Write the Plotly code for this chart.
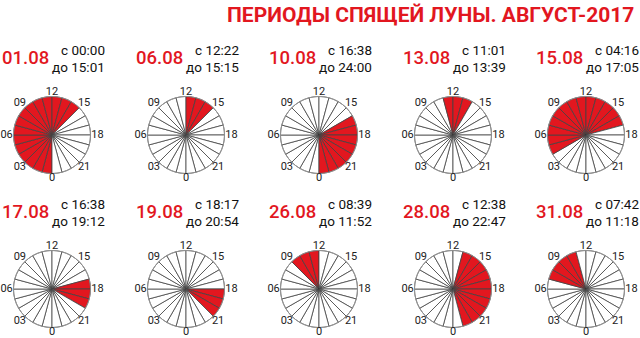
import plotly.graph_objects as go

# ---- data ----
dates = ['01.08', '06.08', '10.08', '13.08', '15.08',
         '17.08', '19.08', '26.08', '28.08', '31.08']
start_txt = ['00:00', '12:22', '16:38', '11:01', '04:16',
             '16:38', '18:17', '08:39', '12:38', '07:42']
end_txt = ['15:01', '15:15', '24:00', '13:39', '17:05',
           '19:12', '20:54', '11:52', '22:47', '11:18']
fill_start = [0, 12, 16, 11, 4, 17, 18, 9, 13, 7]
fill_end = [15, 15, 24, 14, 17, 20, 21, 12, 23, 11]
hour_ticks = [0, 3, 6, 9, 12, 15, 18, 21]
hour_tick_text = ['0', '03', '06', '09', '12', '15', '18', '21']
title_text = 'ПЕРИОДЫ СПЯЩЕЙ ЛУНЫ. АВГУСТ-2017'

RED = '#e2171f'
W, H = 640, 338
FONT = 'Roboto'
col_cx = [52, 186, 319, 453, 586]
row_cy = [135, 289]
R = 38.5          # pixel radius of the clock face
RMAX = 1.2        # radial range (room for labels)

hours = list(range(24))
# label distance: vertical labels (0, 12) sit a bit closer to the rim
label_r = [1.12 if t in (0, 12) else 1.18 for t in hour_ticks]

fig = go.Figure()
annotations = []
layout_polars = {}

for i, d in enumerate(dates):
    cx = col_cx[i % 5]
    cy = row_cy[i // 5]
    name = 'polar' if i == 0 else f'polar{i+1}'
    colors = [RED if fill_start[i] <= h < fill_end[i] else 'white' for h in hours]
    fig.add_trace(go.Barpolar(
        r=[1] * 24,
        theta=[h * 15 + 7.5 for h in hours],
        width=[15] * 24,
        marker=dict(color=colors, line=dict(color='#444444', width=0.8)),
        subplot=name, showlegend=False, hoverinfo='skip'))
    # outer rim of the clock face
    fig.add_trace(go.Scatterpolar(
        r=[1] * 361, theta=list(range(361)), mode='lines',
        line=dict(color='#9a9a9a', width=1),
        subplot=name, showlegend=False, hoverinfo='skip'))
    # hour labels
    fig.add_trace(go.Scatterpolar(
        r=label_r, theta=[t * 15 for t in hour_ticks],
        mode='text', text=hour_tick_text, textposition='middle center',
        textfont=dict(family=FONT, size=11, color='#222222'),
        cliponaxis=False,
        subplot=name, showlegend=False, hoverinfo='skip'))
    Rp = R * RMAX
    layout_polars[name] = dict(
        domain=dict(x=[(cx - Rp) / W, (cx + Rp) / W],
                    y=[max(0, 1 - (cy + Rp) / H), 1 - (cy - Rp) / H]),
        bgcolor='rgba(0,0,0,0)',
        bargap=0,
        radialaxis=dict(visible=False, range=[0, RMAX]),
        angularaxis=dict(
            rotation=270, direction='clockwise', thetaunit='degrees',
            showticklabels=False, showline=False,
            showgrid=False, ticks=''),
    )
    annotations.append(dict(
        text=d, x=(cx - 52) / W, y=1 - (cy - 77) / H,
        xref='paper', yref='paper', xanchor='left', yanchor='middle',
        showarrow=False,
        font=dict(family=FONT, size=18.5, color=RED, weight=500)))
    annotations.append(dict(
        text='с ' + start_txt[i], x=(cx + 55) / W, y=1 - (cy - 85) / H,
        xref='paper', yref='paper', xanchor='right', yanchor='middle',
        showarrow=False, font=dict(family=FONT, size=13.5, color='#111111')))
    annotations.append(dict(
        text='до ' + end_txt[i], x=(cx + 55) / W, y=1 - (cy - 68) / H,
        xref='paper', yref='paper', xanchor='right', yanchor='middle',
        showarrow=False, font=dict(family=FONT, size=13.5, color='#111111')))

annotations.append(dict(
    text=title_text, x=636 / W, y=1 - 15 / H,
    xref='paper', yref='paper', xanchor='right', yanchor='middle',
    showarrow=False, font=dict(family=FONT, size=21, color=RED, weight='bold')))

fig.update_layout(
    width=W, height=H,
    margin=dict(l=0, r=0, t=0, b=0),
    paper_bgcolor='white', plot_bgcolor='white',
    annotations=annotations,
    **layout_polars)

fig.write_html('out.html')
